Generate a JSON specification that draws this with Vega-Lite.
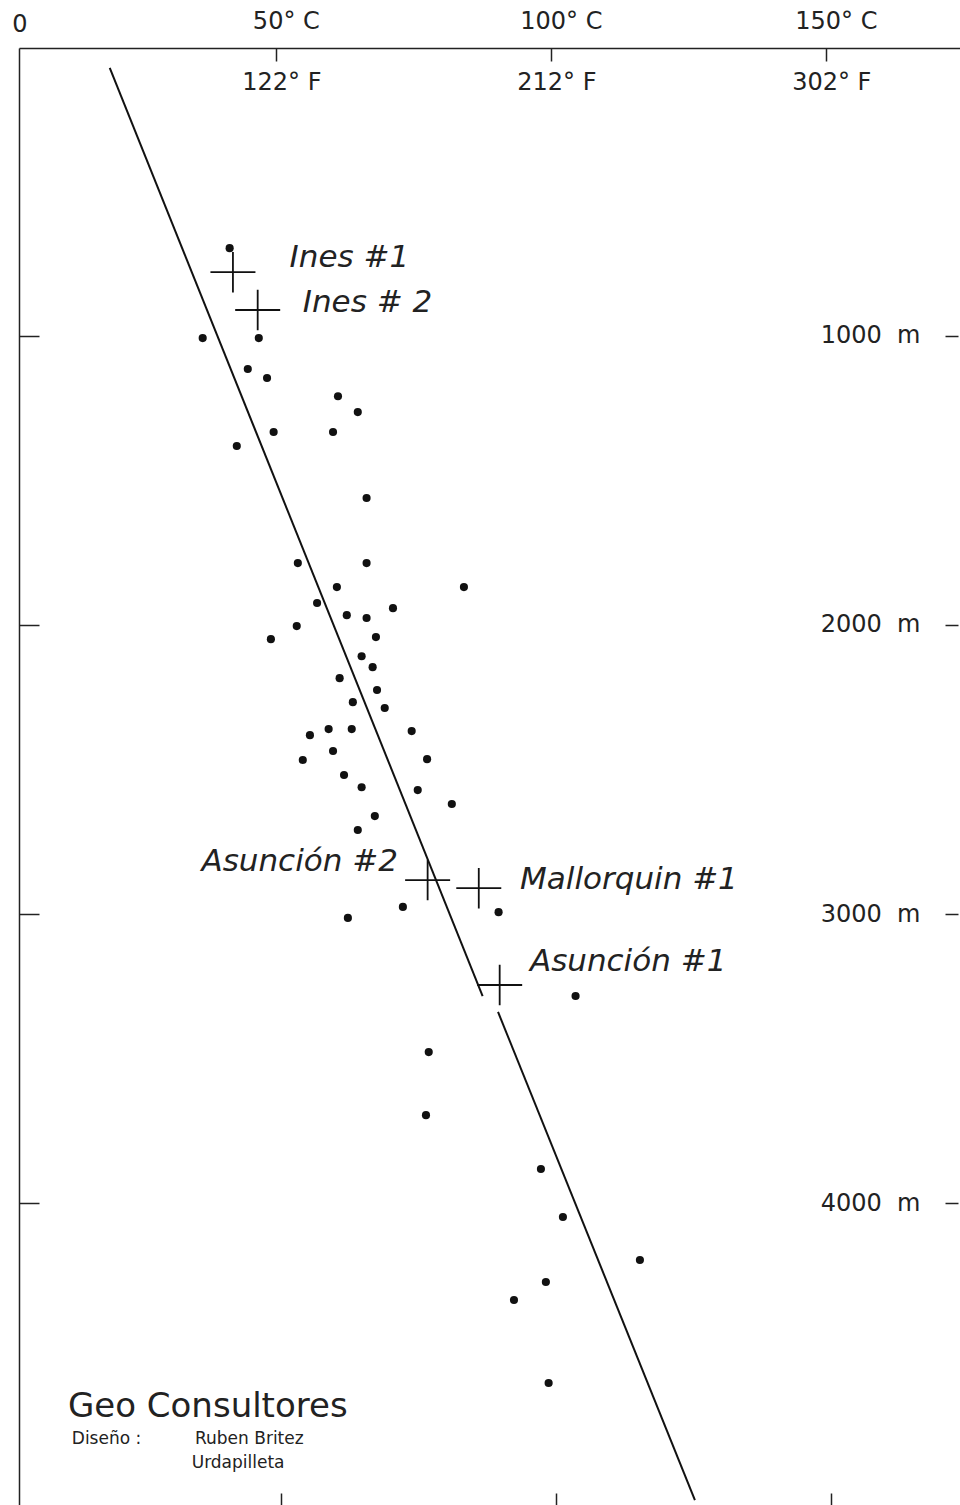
{
  "$schema": "https://vega.github.io/schema/vega-lite/v6.json",
  "width": 941,
  "height": 1457,
  "autosize": {"type": "none"},
  "padding": {"left": 19, "top": 48, "right": 0, "bottom": 0},
  "background": "white",
  "config": {
    "view": {"stroke": null},
    "axis": {"labelFont": "DejaVu Sans", "labelColor": "#222", "domainColor": "#222", "tickColor": "#222", "grid": false, "title": null}
  },
  "resolve": {"axis": {"x": "independent", "y": "independent"}},
  "datasets": {
    "trend": [
      {"segment": "upper", "t_start": 19.8, "depth_start": 74, "t_end": 87.6, "depth_end": 3283},
      {"segment": "lower", "t_start": 90.4, "depth_start": 3338, "t_end": 126.2, "depth_end": 5026}
    ],
    "measurements": [
      {"temp": 41.6, "depth": 697}, {"temp": 36.7, "depth": 1008}, {"temp": 46.9, "depth": 1008},
      {"temp": 44.9, "depth": 1115}, {"temp": 48.4, "depth": 1146}, {"temp": 61.3, "depth": 1209},
      {"temp": 64.9, "depth": 1264}, {"temp": 49.6, "depth": 1333}, {"temp": 60.4, "depth": 1333},
      {"temp": 42.9, "depth": 1381}, {"temp": 66.5, "depth": 1561}, {"temp": 54.0, "depth": 1786},
      {"temp": 66.5, "depth": 1786}, {"temp": 84.2, "depth": 1869}, {"temp": 61.1, "depth": 1869},
      {"temp": 57.5, "depth": 1924}, {"temp": 71.3, "depth": 1942}, {"temp": 62.9, "depth": 1966},
      {"temp": 66.5, "depth": 1976}, {"temp": 53.8, "depth": 2004}, {"temp": 49.1, "depth": 2049},
      {"temp": 68.2, "depth": 2042}, {"temp": 65.6, "depth": 2108}, {"temp": 67.6, "depth": 2146},
      {"temp": 61.6, "depth": 2184}, {"temp": 68.4, "depth": 2225}, {"temp": 64.0, "depth": 2267},
      {"temp": 69.8, "depth": 2287}, {"temp": 59.6, "depth": 2360}, {"temp": 63.8, "depth": 2360},
      {"temp": 74.7, "depth": 2367}, {"temp": 56.2, "depth": 2381}, {"temp": 60.4, "depth": 2436},
      {"temp": 54.9, "depth": 2467}, {"temp": 77.5, "depth": 2464}, {"temp": 62.4, "depth": 2519},
      {"temp": 65.6, "depth": 2561}, {"temp": 75.8, "depth": 2571}, {"temp": 82.0, "depth": 2619},
      {"temp": 68.0, "depth": 2661}, {"temp": 64.9, "depth": 2709}, {"temp": 73.1, "depth": 2975},
      {"temp": 90.5, "depth": 2993}, {"temp": 63.1, "depth": 3013}, {"temp": 104.5, "depth": 3283},
      {"temp": 77.8, "depth": 3477}, {"temp": 77.3, "depth": 3695}, {"temp": 98.2, "depth": 3881},
      {"temp": 102.2, "depth": 4047}, {"temp": 116.2, "depth": 4196}, {"temp": 99.1, "depth": 4272},
      {"temp": 93.3, "depth": 4334}, {"temp": 99.6, "depth": 4621}
    ],
    "wells": [
      {"well": "Ines #1", "temp": 42.2, "depth": 780},
      {"well": "Ines #2", "temp": 46.7, "depth": 911},
      {"well": "Asunción #2", "temp": 77.6, "depth": 2882},
      {"well": "Mallorquin #1", "temp": 86.9, "depth": 2910},
      {"well": "Asunción #1", "temp": 90.7, "depth": 3245}
    ],
    "well_labels": [
      {"label": "Ines #1", "temp": 52.5, "depth": 731, "side": "right"},
      {"label": "Ines # 2", "temp": 54.9, "depth": 887, "side": "right"},
      {"label": "Asunción #2", "temp": 72.2, "depth": 2820, "side": "left"},
      {"label": "Mallorquin #1", "temp": 94.4, "depth": 2882, "side": "right"},
      {"label": "Asunción #1", "temp": 96.2, "depth": 3166, "side": "right"}
    ],
    "fahrenheit": [
      {"temp": 50, "depth": 126, "label": "122° F"},
      {"temp": 100, "depth": 126, "label": "212° F"},
      {"temp": 150, "depth": 126, "label": "302° F"}
    ],
    "corner": [{"temp": 3.45, "depth": -74, "label": "0"}],
    "credits": [
      {"label": "Geo Consultores", "temp": 12.2, "depth": 4704, "role": "title"},
      {"label": "Diseño :", "temp": 12.9, "depth": 4815, "role": "author"},
      {"label": "Ruben Britez", "temp": 35.3, "depth": 4815, "role": "author"},
      {"label": "Urdapilleta", "temp": 34.7, "depth": 4897, "role": "author"}
    ]
  },
  "layer": [
    {
      "data": {"name": "trend"},
      "mark": {"type": "rule", "color": "#111", "strokeWidth": 2},
      "encoding": {
        "x": {"field": "t_start", "type": "quantitative",
          "scale": {"domain": [3.3, 174.4], "nice": false, "zero": false},
          "axis": {"orient": "top", "values": [50, 100, 150], "labelExpr": "datum.value + '° C'",
            "tickSize": -13, "tickWidth": 1.5, "labelPadding": 28, "labelOffset": 10,
            "labelFontSize": 24, "domainWidth": 1.5, "labelAngle": 0}},
        "x2": {"field": "t_end"},
        "y": {"field": "depth_start", "type": "quantitative",
          "scale": {"domain": [5, 5043], "reverse": true, "nice": false, "zero": false},
          "axis": {"orient": "left", "values": [1000, 2000, 3000, 4000], "labels": false,
            "tickSize": -20, "tickWidth": 1.5, "domainWidth": 1.5}},
        "y2": {"field": "depth_end"}
      }
    },
    {
      "data": {"name": "measurements"},
      "mark": {"type": "point", "filled": true, "size": 66, "color": "#111", "opacity": 1},
      "encoding": {
        "x": {"field": "temp", "type": "quantitative",
          "scale": {"domain": [3.3, 174.4], "nice": false, "zero": false},
          "axis": {"orient": "bottom", "values": [50, 100, 150], "labels": false, "domain": false,
            "tickSize": -12, "tickWidth": 1.5, "tickOffset": 5}},
        "y": {"field": "depth", "type": "quantitative",
          "scale": {"domain": [5, 5043], "reverse": true, "nice": false, "zero": false},
          "axis": {"orient": "right", "values": [1000, 2000, 3000, 4000],
            "labelExpr": "datum.value + '\u00a0\u00a0m'", "offset": -15, "tickSize": 13, "tickWidth": 1.5,
            "domain": false, "labelAlign": "right", "labelBaseline": "middle", "labelPadding": -38,
            "labelFontSize": 24}}
      }
    },
    {
      "data": {"name": "wells"},
      "mark": {"type": "point", "shape": "M-1,0H1M0,-0.9V0.9", "size": 2025, "filled": false,
        "stroke": "#111", "strokeWidth": 1.8, "opacity": 1},
      "encoding": {
        "x": {"field": "temp", "type": "quantitative", "scale": {"domain": [3.3, 174.4], "nice": false, "zero": false}, "axis": null},
        "y": {"field": "depth", "type": "quantitative", "scale": {"domain": [5, 5043], "reverse": true, "nice": false, "zero": false}, "axis": null}
      }
    },
    {
      "data": {"name": "well_labels"},
      "transform": [{"filter": "datum.side === 'right'"}],
      "mark": {"type": "text", "font": "DejaVu Sans", "fontStyle": "italic", "fontSize": 31,
        "align": "left", "baseline": "middle", "color": "#222"},
      "encoding": {
        "x": {"field": "temp", "type": "quantitative", "scale": {"domain": [3.3, 174.4], "nice": false, "zero": false}, "axis": null},
        "y": {"field": "depth", "type": "quantitative", "scale": {"domain": [5, 5043], "reverse": true, "nice": false, "zero": false}, "axis": null},
        "text": {"field": "label"}
      }
    },
    {
      "data": {"name": "well_labels"},
      "transform": [{"filter": "datum.side === 'left'"}],
      "mark": {"type": "text", "font": "DejaVu Sans", "fontStyle": "italic", "fontSize": 31,
        "align": "right", "baseline": "middle", "color": "#222"},
      "encoding": {
        "x": {"field": "temp", "type": "quantitative", "scale": {"domain": [3.3, 174.4], "nice": false, "zero": false}, "axis": null},
        "y": {"field": "depth", "type": "quantitative", "scale": {"domain": [5, 5043], "reverse": true, "nice": false, "zero": false}, "axis": null},
        "text": {"field": "label"}
      }
    },
    {
      "data": {"name": "fahrenheit"},
      "mark": {"type": "text", "font": "DejaVu Sans", "fontSize": 24,
        "align": "center", "baseline": "middle", "color": "#222", "dx": 6},
      "encoding": {
        "x": {"field": "temp", "type": "quantitative", "scale": {"domain": [3.3, 174.4], "nice": false, "zero": false}, "axis": null},
        "y": {"field": "depth", "type": "quantitative", "scale": {"domain": [5, 5043], "reverse": true, "nice": false, "zero": false}, "axis": null},
        "text": {"field": "label"}
      }
    },
    {
      "data": {"name": "corner"},
      "mark": {"type": "text", "font": "DejaVu Sans", "fontSize": 24,
        "align": "center", "baseline": "middle", "color": "#222"},
      "encoding": {
        "x": {"field": "temp", "type": "quantitative", "scale": {"domain": [3.3, 174.4], "nice": false, "zero": false}, "axis": null},
        "y": {"field": "depth", "type": "quantitative", "scale": {"domain": [5, 5043], "reverse": true, "nice": false, "zero": false}, "axis": null},
        "text": {"field": "label"}
      }
    },
    {
      "data": {"name": "credits"},
      "transform": [{"filter": "datum.role === 'title'"}],
      "mark": {"type": "text", "font": "DejaVu Sans", "fontSize": 34,
        "align": "left", "baseline": "middle", "color": "#222"},
      "encoding": {
        "x": {"field": "temp", "type": "quantitative", "scale": {"domain": [3.3, 174.4], "nice": false, "zero": false}, "axis": null},
        "y": {"field": "depth", "type": "quantitative", "scale": {"domain": [5, 5043], "reverse": true, "nice": false, "zero": false}, "axis": null},
        "text": {"field": "label"}
      }
    },
    {
      "data": {"name": "credits"},
      "transform": [{"filter": "datum.role === 'author'"}],
      "mark": {"type": "text", "font": "DejaVu Sans", "fontSize": 17,
        "align": "left", "baseline": "middle", "color": "#222"},
      "encoding": {
        "x": {"field": "temp", "type": "quantitative", "scale": {"domain": [3.3, 174.4], "nice": false, "zero": false}, "axis": null},
        "y": {"field": "depth", "type": "quantitative", "scale": {"domain": [5, 5043], "reverse": true, "nice": false, "zero": false}, "axis": null},
        "text": {"field": "label"}
      }
    }
  ]
}
